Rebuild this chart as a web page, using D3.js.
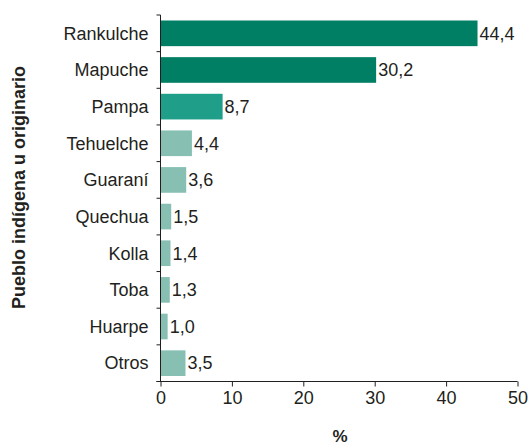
<!DOCTYPE html>
<html>
<head>
<meta charset="utf-8">
<script src="https://cdn.jsdelivr.net/npm/d3@7"></script>
<style>
  html, body { margin: 0; padding: 0; background: #fff; }
  svg text { font-family: "Liberation Sans", Arial, Helvetica, sans-serif; fill: #231f20; }
</style>
</head>
<body>
<svg id="chart" width="528" height="446"></svg>
<script>
const pueblos = ["Rankulche", "Mapuche", "Pampa", "Tehuelche", "Guaraní", "Quechua", "Kolla", "Toba", "Huarpe", "Otros"];
const porcentajes = [44.4, 30.2, 8.7, 4.4, 3.6, 1.5, 1.4, 1.3, 1.0, 3.5];
const tonos = ["#007f65", "#007f65", "#1f9e89", "#87bfb3", "#87bfb3", "#87bfb3", "#87bfb3", "#87bfb3", "#87bfb3", "#87bfb3"];
const xTicks = [0, 10, 20, 30, 40, 50];

const svg = d3.select("#chart");
const plot = { left: 160.5, right: 517.5, top: 15, bottom: 381.5 };

const x = d3.scaleLinear().domain([0, 50]).range([plot.left, plot.right]);
const y = d3.scaleBand().domain(pueblos).range([plot.top, plot.bottom]).paddingInner(0.3).paddingOuter(0.15);

const fmt = v => d3.format(".1f")(v).replace(".", ",");

// bars
svg.append("g").selectAll("rect")
  .data(pueblos)
  .join("rect")
  .attr("x", x(0))
  .attr("y", d => y(d))
  .attr("width", (d, i) => x(porcentajes[i]) - x(0))
  .attr("height", y.bandwidth())
  .attr("fill", (d, i) => tonos[i]);

// value labels
svg.append("g").selectAll("text")
  .data(pueblos)
  .join("text")
  .attr("x", (d, i) => x(porcentajes[i]) + 2)
  .attr("y", d => y(d) + y.bandwidth() / 2)
  .attr("dy", "0.35em")
  .attr("font-size", 18)
  .text((d, i) => fmt(porcentajes[i]));

// y axis: line with ticks at category boundaries
const yAxis = svg.append("g");
yAxis.append("line")
  .attr("x1", plot.left).attr("x2", plot.left)
  .attr("y1", plot.top).attr("y2", plot.bottom)
  .attr("stroke", "#231f20").attr("stroke-width", 1);
const step = (plot.bottom - plot.top) / pueblos.length;
yAxis.selectAll("line.tick")
  .data(d3.range(pueblos.length + 1))
  .join("line")
  .attr("class", "tick")
  .attr("x1", plot.left - 4).attr("x2", plot.left)
  .attr("y1", i => plot.top + i * step).attr("y2", i => plot.top + i * step)
  .attr("stroke", "#231f20").attr("stroke-width", 1);
yAxis.selectAll("text")
  .data(pueblos)
  .join("text")
  .attr("x", plot.left - 12)
  .attr("y", d => y(d) + y.bandwidth() / 2)
  .attr("dy", "0.35em")
  .attr("text-anchor", "end")
  .attr("font-size", 18)
  .text(d => d);

// x axis
const xAxis = svg.append("g")
  .attr("transform", `translate(0,${plot.bottom})`)
  .call(d3.axisBottom(x).tickValues(xTicks).tickSize(5).tickPadding(5).tickFormat(d => d));
xAxis.select(".domain").attr("d", `M${plot.left - 4},0H${plot.right}`).attr("stroke", "#231f20");
xAxis.selectAll(".tick line").attr("stroke", "#231f20");
xAxis.selectAll(".tick text")
  .attr("font-size", 18)
  .attr("font-family", "Liberation Sans, Arial, sans-serif")
  .attr("fill", "#231f20");

// axis titles
svg.append("text")
  .attr("x", (plot.left + plot.right) / 2 + 1)
  .attr("y", 442)
  .attr("text-anchor", "middle")
  .attr("font-size", 17)
  .attr("font-weight", "bold")
  .text("%");

svg.append("text")
  .attr("transform", `translate(25,187.5) rotate(-90)`)
  .attr("text-anchor", "middle")
  .attr("font-size", 18)
  .attr("font-weight", "bold")
  .text("Pueblo indígena u originario");
</script>
</body>
</html>
